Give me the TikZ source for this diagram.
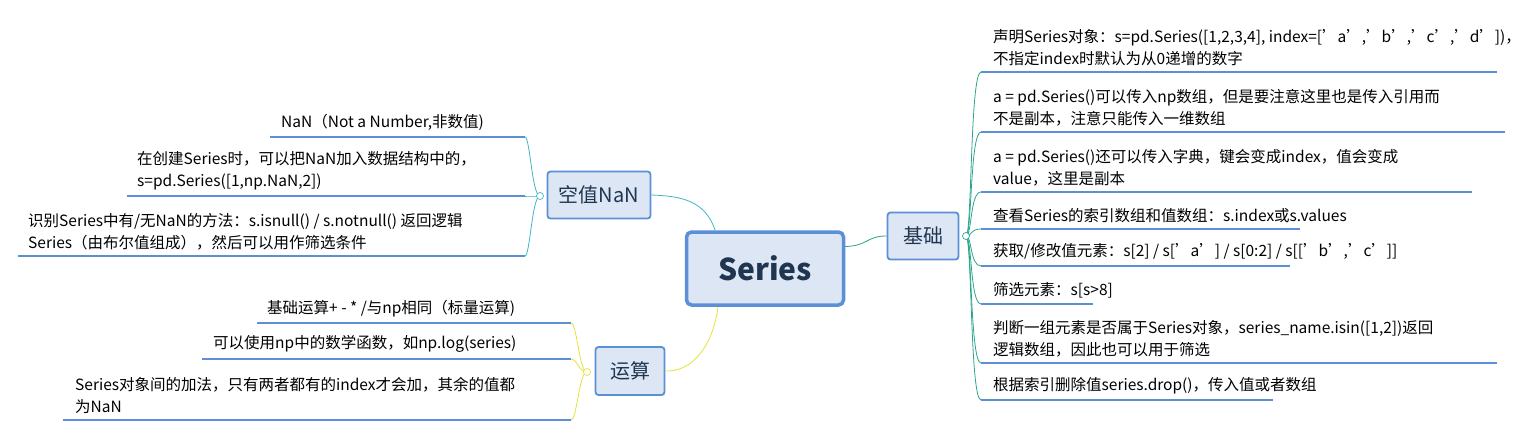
\documentclass[tikz,border=0pt]{standalone}
\usepackage{fontspec}
\setmainfont{Noto Sans CJK SC}
\definecolor{uline}{HTML}{5B8FD6}
\definecolor{boxfill}{HTML}{DCE6F4}
\definecolor{txt}{HTML}{1F3550}
\definecolor{cgreen}{HTML}{2CA58D}
\definecolor{cteal}{HTML}{3FB6C6}
\definecolor{cyell}{HTML}{E2E23A}
\begin{document}
\begin{tikzpicture}[x=1pt,y=-1pt,
  item/.style={inner sep=0pt,align=left,font=\fontsize{15.5}{22}\selectfont,text=black},
  ul/.style={uline,line width=2.6pt},
  topic/.style={draw=uline,line width=1.8pt,fill=boxfill,rounded corners=3pt,text=txt,font=\fontsize{20}{24}\selectfont,inner sep=0pt},
  knob/.style={circle,draw,fill=white,line width=0.7pt,inner sep=0pt,minimum size=7pt}]
\useasboundingbox (0,0) rectangle (1521,437);
% central
\node[draw=uline,line width=3.5pt,fill=boxfill,rounded corners=5pt,minimum width=157pt,minimum height=73pt,text=txt,font=\fontsize{30}{34}\selectfont\bfseries] (c) at (765,268.5) {Series};
\node[topic,minimum width=71pt,minimum height=47pt] (jc) at (923,236) {基础};
\node[topic,minimum width=103pt,minimum height=47pt] (kz) at (599,195) {空值NaN};
\node[topic,minimum width=69pt,minimum height=48pt] (ys) at (630,371) {运算};
% main connectors
\draw[cgreen,line width=0.8pt] (c.east) ++(0,-22) coordinate (ce) .. controls (868,246) and (866,236) .. (jc.west);
\draw[cteal,line width=0.8pt] (715,230) .. controls (705,200) and (680,196) .. (kz.east);
\draw[cyell,line width=0.8pt] (718,307) .. controls (712,350) and (690,372) .. (ys.east);
% right items
\coordinate (kj) at (966,236);
\foreach \n/\y/\xe in {r1/72/1497,r2/132/1505,r3/192/1472,r4/229/1300,r5/266/1290,r6/304/1093,r7/363/1497,r8/400/1273}{
  \coordinate (\n s) at (981,\y);
  \draw[cgreen,line width=0.8pt] (kj) .. controls (972,236) and (970,\y) .. (\n s);
  \draw[ul] (\n s) -- (\xe,\y);
}
\node[knob,draw=cgreen] (kjn) at (kj) {};
\node[item,anchor=south west] (t1) at (993,66) {声明Series对象：s=pd.Series([1,2,3,4], index=['a','b','c','d'])，\\不指定index时默认为从0递增的数字};
\node[item,anchor=south west] (t2) at (993,126) {a = pd.Series()可以传入np数组，但是要注意这里也是传入引用而\\不是副本，注意只能传入一维数组};
\node[item,anchor=south west] (t3) at (993,186) {a = pd.Series()还可以传入字典，键会变成index，值会变成\\value，这里是副本};
\node[item,anchor=south west] (t4) at (993,223) {查看Series的索引数组和值数组：s.index或s.values};
\node[item,anchor=south west] (t5) at (993,260) {获取/修改值元素：s[2] / s['a'] / s[0:2] / s[['b','c']]};
\node[item,anchor=south west] (t6) at (993,298) {筛选元素：s[s>8]};
\node[item,anchor=south west] (t7) at (993,357) {判断一组元素是否属于Series对象，series\_name.isin([1,2])返回\\逻辑数组，因此也可以用于筛选};
\node[item,anchor=south west] (t8) at (993,394) {根据索引删除值series.drop()，传入值或者数组};
% left NaN items
\coordinate (kk) at (540,196);
\foreach \n/\y/\xs in {l1/137/270,l2/196/127,l3/256/18}{
  \coordinate (\n s) at (525,\y);
  \draw[cteal,line width=0.8pt] (kk) .. controls (532,196) and (530,\y) .. (\n s);
  \draw[ul] (\n s) -- (\xs,\y);
}
\node[knob,draw=cteal] (kkn) at (kk) {};
\node[item,anchor=south west] (n1) at (281,131) {NaN（Not a Number,非数值)};
\node[item,anchor=south west] (n2) at (137,190) {在创建Series时，可以把NaN加入数据结构中的，\\s=pd.Series([1,np.NaN,2])};
\node[item,anchor=south west] (n3) at (28,250) {识别Series中有/无NaN的方法：s.isnull() / s.notnull() 返回逻辑\\Series（由布尔值组成），然后可以用作筛选条件};
% left ops items
\coordinate (ky) at (587,372);
\foreach \n/\y/\xs in {o1/323/257,o2/359/202,o3/420/63}{
  \coordinate (\n s) at (571,\y);
  \draw[cyell,line width=0.8pt] (ky) .. controls (579,372) and (577,\y) .. (\n s);
  \draw[ul] (\n s) -- (\xs,\y);
}
\node[knob,draw=cyell] (kyn) at (ky) {};
\node[item,anchor=south west] (p1) at (267,317) {基础运算+ - * /与np相同（标量运算)};
\node[item,anchor=south west] (p2) at (213,353) {可以使用np中的数学函数，如np.log(series)};
\node[item,anchor=south west] (p3) at (75,414) {Series对象间的加法，只有两者都有的index才会加，其余的值都\\为NaN};
\end{tikzpicture}
\end{document}
